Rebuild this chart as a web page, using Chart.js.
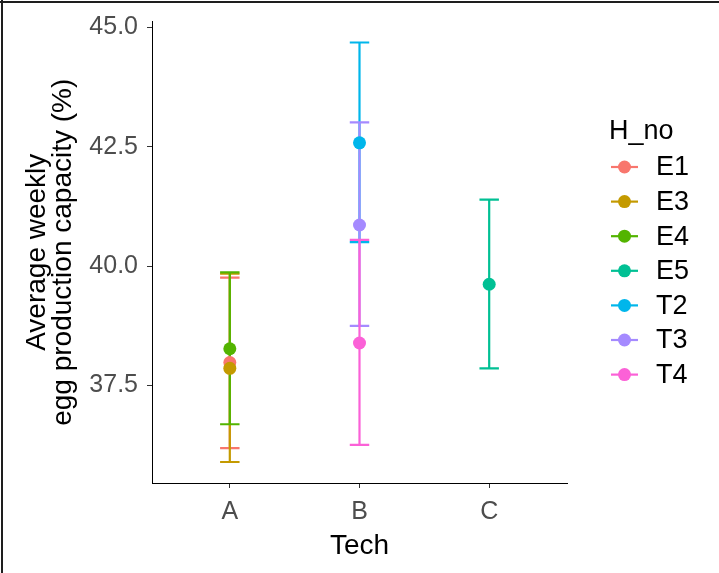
<!DOCTYPE html>
<html>
<head>
<meta charset="utf-8">
<title>Egg production capacity by Tech</title>
<script src="https://cdn.jsdelivr.net/npm/chart.js@4"></script>
<style>
  html, body { margin: 0; padding: 0; background: #fff; }
  canvas { display: block; }
</style>
</head>
<body>
<canvas id="myChart" width="719" height="573"></canvas>
<script>
// data: mean +/- error per hen group, grouped by Tech
const categories = ['A', 'B', 'C'];
const seriesNames = ['E1', 'E3', 'E4', 'E5', 'T2', 'T3', 'T4'];
const seriesTech = ['A', 'A', 'A', 'C', 'B', 'B', 'B'];
const means = [37.98, 37.86, 38.27, 39.62, 42.58, 40.86, 38.39];
const lower = [36.19, 35.90, 36.69, 37.86, 40.50, 38.75, 36.26];
const upper = [39.76, 39.84, 39.87, 41.39, 44.68, 43.01, 40.55];
const yTicks = [37.5, 40.0, 42.5, 45.0];

const colors = ['#F8766D', '#C49A00', '#53B400', '#00C094', '#00B6EB', '#A58AFF', '#FB61D7'];
const FONT = "'Liberation Sans', Arial, sans-serif";

const ctx = document.getElementById('myChart').getContext('2d');

const datasets = seriesNames.map((name, i) => ({
    label: name,
    data: [{ x: categories.indexOf(seriesTech[i]) + 1, y: means[i] }],
    showLine: false,
    pointRadius: 6.5,
    pointHoverRadius: 6.5,
    pointBorderWidth: 0,
    pointBackgroundColor: colors[i],
    borderColor: colors[i],
    order: seriesNames.length - i
}));

// vertical error bars with caps, drawn under the points
const errorBars = {
    id: 'errorBars',
    beforeDatasetsDraw(chart) {
        const { ctx, scales: { x, y } } = chart;
        ctx.save();
        ctx.lineWidth = 2.2;
        datasets.forEach((ds, i) => {
            const xv = ds.data[0].x;
            const px = x.getPixelForValue(xv);
            const half = x.getPixelForValue(xv + 0.075) - px;
            const yl = y.getPixelForValue(lower[i]);
            const yu = y.getPixelForValue(upper[i]);
            ctx.strokeStyle = colors[i];
            ctx.beginPath();
            ctx.moveTo(px, yu); ctx.lineTo(px, yl);
            ctx.moveTo(px - half, yu); ctx.lineTo(px + half, yu);
            ctx.moveTo(px - half, yl); ctx.lineTo(px + half, yl);
            ctx.stroke();
        });
        ctx.restore();
    }
};

// ggplot style legend: title, then a short line with a dot per group
const sideLegend = {
    id: 'sideLegend',
    afterDraw(chart) {
        const ctx = chart.ctx;
        ctx.save();
        ctx.fillStyle = '#000';
        ctx.textBaseline = 'alphabetic';
        ctx.textAlign = 'left';
        ctx.font = '27px ' + FONT;
        ctx.fillText('H_no', 609, 139);
        ctx.textBaseline = 'middle';
        datasets.forEach((ds, i) => {
            const cy = 167 + i * 34.6;
            ctx.strokeStyle = colors[i];
            ctx.lineWidth = 2.2;
            ctx.beginPath();
            ctx.moveTo(611, cy); ctx.lineTo(638, cy);
            ctx.stroke();
            ctx.fillStyle = colors[i];
            ctx.beginPath();
            ctx.arc(624.5, cy, 6.5, 0, Math.PI * 2);
            ctx.fill();
            ctx.fillStyle = '#000';
            ctx.fillText(ds.label, 656, cy + 1);
        });
        // frame on the outer edge
        ctx.fillStyle = '#1e1e1e';
        ctx.fillRect(1, 0, 2, 573);
        ctx.fillRect(0, 1, 719, 2);
        ctx.restore();
    }
};

let myChart = new Chart(ctx, {
    type: 'line',
    data: { datasets: datasets },
    plugins: [errorBars, sideLegend],
    options: {
        responsive: false,
        animation: false,
        layout: { padding: { top: 14, right: 152, bottom: 0, left: 0 } },
        plugins: {
            legend: { display: false },
            tooltip: { enabled: false }
        },
        scales: {
            x: {
                type: 'linear',
                min: 0.4,
                max: 3.6,
                afterBuildTicks: (scale) => { scale.ticks = categories.map((c, i) => ({ value: i + 1 })); },
                afterFit: (scale) => { scale.height = 90; },
                grid: { drawOnChartArea: false, drawTicks: true, tickLength: 5, tickColor: '#333', tickWidth: 1 },
                border: { display: true, color: '#000', width: 1 },
                ticks: {
                    padding: 9,
                    color: '#4D4D4D',
                    font: { family: FONT, size: 25 },
                    callback: (v) => categories[v - 1]
                },
                title: {
                    display: true,
                    text: 'Tech',
                    color: '#000',
                    font: { family: FONT, size: 28 },
                    padding: { top: 0, bottom: 10 }
                }
            },
            y: {
                min: 35.46,
                max: 45.12,
                afterBuildTicks: (scale) => { scale.ticks = yTicks.map(v => ({ value: v })); },
                afterFit: (scale) => { scale.width = 152; },
                grid: { drawOnChartArea: false, drawTicks: true, tickLength: 5, tickColor: '#333', tickWidth: 1 },
                border: { display: true, color: '#000', width: 1 },
                ticks: {
                    padding: 9,
                    color: '#4D4D4D',
                    font: { family: FONT, size: 25, lineHeight: 1 },
                    callback: (v) => v.toFixed(1)
                },
                title: {
                    display: true,
                    text: ['Average weekly', 'egg production capacity (%)'],
                    color: '#000',
                    font: { family: FONT, size: 28, lineHeight: 0.9 },
                    padding: { top: 25, bottom: 0 }
                }
            }
        }
    }
});
</script>
</body>
</html>
